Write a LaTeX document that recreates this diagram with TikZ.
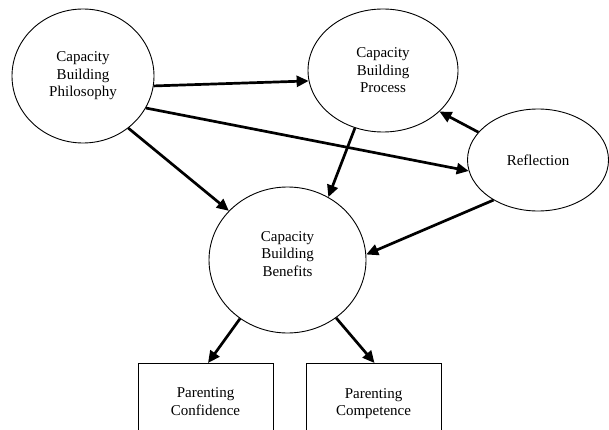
\documentclass[tikz,border=0pt]{standalone}
\usepackage{fontspec}
\setmainfont{Liberation Serif}
\usetikzlibrary{shapes.geometric,arrows.meta}
\begin{document}
\begin{tikzpicture}[x=1pt,y=1pt,
  txt/.style={font=\fontsize{15}{17.5}\selectfont,align=center},
  oval/.style={ellipse,draw,line width=0.9pt,inner sep=0pt,txt},
  boxnode/.style={rectangle,draw,line width=0.9pt,inner sep=0pt,minimum width=135pt,txt,anchor=north},
  arr/.style={line width=2.7pt,-{Triangle[length=12pt,width=11pt]}}]
\useasboundingbox (0,0) rectangle (609,429);
\clip (0,0) rectangle (609,429);
\node[oval,minimum width=142pt,minimum height=134pt] (phil) at (83,353) {Capacity\\Building\\Philosophy};
\node[oval,minimum width=150pt,minimum height=123pt] (proc) at (383,358.5) {Capacity\\Building\\Process};
\node[oval,minimum width=141pt,minimum height=102pt] (refl) at (538,269) {Reflection};
\node[oval,minimum width=157pt,minimum height=146pt,
  label={[txt,yshift=6pt,name=benlbl]center:{Capacity\\Building\\Benefits}}] (ben) at (287.5,169) {};
\node[boxnode,minimum height=76pt] (conf) at (205.5,66) {Parenting\\Confidence};
\node[boxnode,minimum height=80pt] (comp) at (373.5,66) {Parenting\\Competence};
\draw[arr] (phil.-8.8) -- (proc.188.7);
\draw[arr] (phil.-27.3) -- (refl.189.3);
\draw[arr] (phil.-49) -- (ben.140.5);
\draw[arr] (proc.-116.4) -- (ben.57.9);
\draw[arr] (refl.155.4) -- (proc.-36);
\draw[arr] (refl.-138.4) -- (ben.4.4);
\draw[arr] (ben.-129.3) -- ([xshift=2.5pt]conf.north);
\draw[arr] (ben.-50.1) -- ([xshift=1pt]comp.north);
\end{tikzpicture}
\end{document}
